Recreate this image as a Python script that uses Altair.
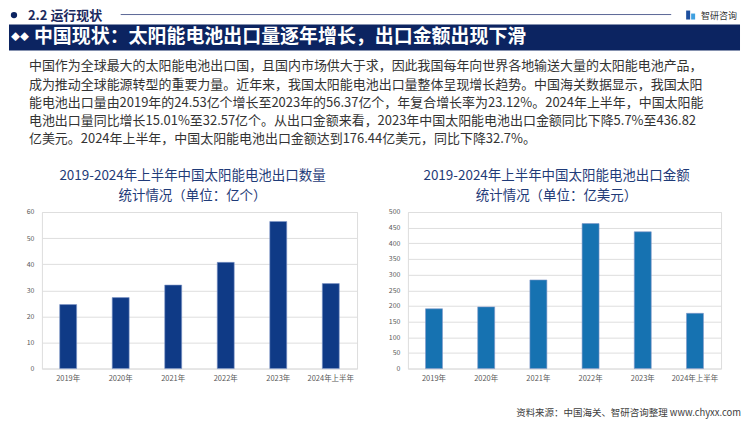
import altair as alt
import pandas as pd

# ---------------- data ----------------
years = ["2019年", "2020年", "2021年", "2022年", "2023年", "2024年上半年"]
volume = [24.53, 27.2, 32.0, 40.7, 56.37, 32.57]          # 亿个
amount = [191.0, 197.0, 283.0, 463.0, 436.82, 176.44]     # 亿美元
volume_ticks = [0, 10, 20, 30, 40, 50, 60]
amount_ticks = [0, 50, 100, 150, 200, 250, 300, 350, 400, 450, 500]

header_text = "2.2 运行现状"
brand_text = "智研咨询"
banner_text = "中国现状：太阳能电池出口量逐年增长，出口金额出现下滑"
para_lines = [
    "中国作为全球最大的太阳能电池出口国，且国内市场供大于求，因此我国每年向世界各地输送大量的太阳能电池产品，",
    "成为推动全球能源转型的重要力量。近年来，我国太阳能电池出口量整体呈现增长趋势。中国海关数据显示，我国太阳",
    "能电池出口量由2019年的24.53亿个增长至2023年的56.37亿个，年复合增长率为23.12%。2024年上半年，中国太阳能",
    "电池出口量同比增长15.01%至32.57亿个。从出口金额来看，2023年中国太阳能电池出口金额同比下降5.7%至436.82",
    "亿美元。2024年上半年，中国太阳能电池出口金额达到176.44亿美元，同比下降32.7%。",
]
left_title = ["2019-2024年上半年中国太阳能电池出口数量", "统计情况（单位：亿个）"]
right_title = ["2019-2024年上半年中国太阳能电池出口金额", "统计情况（单位：亿美元）"]
source_text = "资料来源：中国海关、智研咨询整理 www.chyxx.com"

FONT = "Noto Sans CJK SC"
NAVY = "#0c2461"
TITLE_C = "#1f3b78"

# page coordinates of the two plot areas
LX, LY, LW = 41, 211, 316
RX, RW = 408, 314
H = 157

one = alt.Data(values=[{}])


def txt(x, y, s, ox, oy=LY, **kw):
    return alt.Chart(one).mark_text(text=s, font=FONT, **kw).encode(
        x=alt.value(x - ox), y=alt.value(y - oy))


def rect(x1, x2, y1, y2, color, ox, oy=LY):
    return alt.Chart(one).mark_rect(color=color).encode(
        x=alt.value(x1 - ox), x2=alt.value(x2 - ox),
        y=alt.value(y1 - oy), y2=alt.value(y2 - oy))


def bar_chart(values, ticks, color, title_lines, ox, title_cx):
    df = pd.DataFrame({"year": years, "v": values})
    bars = alt.Chart(df).mark_bar(size=17, color=color, stroke="#7f97c9",
                                  strokeWidth=0.6).encode(
        x=alt.X("year:N", sort=years,
                scale=alt.Scale(paddingInner=0, paddingOuter=0),
                axis=alt.Axis(title=None, labelAngle=0, domain=False, ticks=False,
                              labelPadding=6, labelFontSize=7.5, labelColor="#595959",
                              labelFont=FONT)),
        y=alt.Y("v:Q", scale=alt.Scale(domain=[ticks[0], ticks[-1]], nice=False),
                axis=alt.Axis(title=None, values=ticks, domain=False, ticks=False,
                              labelPadding=8, labelFontSize=7, labelColor="#595959",
                              labelFont=FONT, gridColor="#dedede", gridWidth=1)),
    )
    titles = [
        txt(title_cx, 175, title_lines[0], ox, fontSize=13.5, color=TITLE_C),
        txt(title_cx, 195, title_lines[1], ox, fontSize=13.5, color=TITLE_C),
    ]
    return bars, titles


lbars, ltitles = bar_chart(volume, volume_ticks, "#0f3a86", left_title, LX, 192)
rbars, rtitles = bar_chart(amount, amount_ticks, "#1672b1", right_title, RX, 557)

# header / banner / paragraph (drawn in the left panel's coordinate frame)
extras = []
extras.append(alt.Chart(one).mark_circle(size=40, color=NAVY, opacity=1).encode(
    x=alt.value(13 - LX), y=alt.value(13.5 - LY)))
extras.append(txt(27, 14, header_text, LX, fontSize=13, fontWeight="bold",
                  color="#1b2a5e", align="left", baseline="middle"))
extras.append(alt.Chart(one).mark_rule(color="#5a6796", strokeWidth=1).encode(
    x=alt.value(120 - LX), x2=alt.value(672 - LX), y=alt.value(13 - LY)))
extras.append(rect(687, 691, 9, 18, "#1d4f9e", LX))
extras.append(rect(692, 696, 12, 18, "#3fa0e0", LX))
extras.append(txt(702, 14, brand_text, LX, fontSize=9, color="#333333",
                  align="left", baseline="middle"))
extras.append(rect(8, 741, 23, 49, NAVY, LX))
extras.append(txt(14.5, 36, "◆", LX, fontSize=9, color="white", baseline="middle"))
extras.append(txt(23.5, 36, "◆", LX, fontSize=9, color="white", baseline="middle"))
extras.append(txt(33, 36, banner_text, LX, fontSize=19, fontWeight="bold",
                  color="white", align="left", baseline="middle"))
for i, line in enumerate(para_lines):
    extras.append(txt(28, 65 + i * 18.3, line, LX, fontSize=13, color="#333333",
                      align="left", baseline="middle"))

left = alt.layer(lbars, *ltitles, *extras).properties(width=LW, height=H)

footer = txt(742, 413, source_text, RX, fontSize=9.5, color="#404040",
             align="right", baseline="middle")
right = alt.layer(rbars, *rtitles, footer).properties(width=RW, height=H)

chart = alt.hconcat(left, right, spacing=RX - (LX + LW), bounds="flush",
                    padding={"left": 0, "top": 0, "right": 0, "bottom": 0}
                    ).configure_view(stroke=None).configure(background="white")

chart.save("out.html", embed_options={"renderer": "svg", "actions": False})
